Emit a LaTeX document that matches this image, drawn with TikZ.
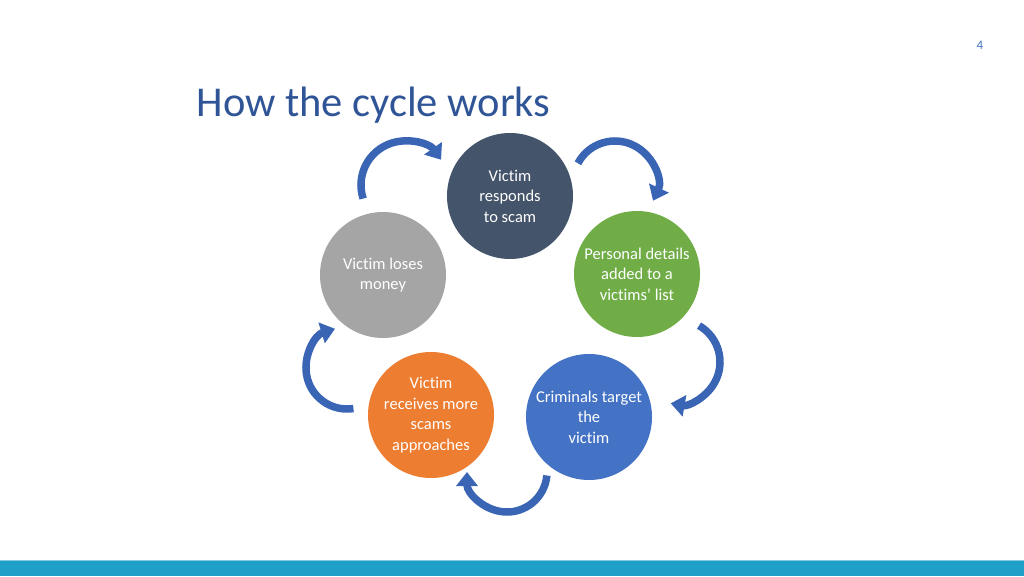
\documentclass[tikz,border=0pt]{standalone}
\usepackage{fontspec}
\setmainfont{Carlito}[Ligatures=NoCommon]
\usetikzlibrary{arrows.meta, positioning}

\definecolor{slate}{HTML}{44546A}
\definecolor{leaf}{HTML}{70AD47}
\definecolor{sky}{HTML}{4472C4}
\definecolor{amber}{HTML}{ED7D31}
\definecolor{ash}{HTML}{A5A5A5}
\definecolor{arrowblue}{HTML}{3A64B4}
\definecolor{titleblue}{HTML}{2F5597}
\definecolor{barblue}{HTML}{1FA0C9}

\begin{document}
\begin{tikzpicture}[
    x=1pt, y=1pt,
    stage/.style={circle, minimum size=126pt, inner sep=0pt, align=center, text=white,
        font=\fontsize{16.5pt}{20.5pt}\selectfont},
    cyc/.style={arrowblue, line width=7.5pt, -{Triangle[width=21pt,length=14pt]}}
]
\useasboundingbox (0,0) rectangle (1024,576);

% slide frame
\fill[barblue] (0,0) rectangle (1024,16);
\draw[barblue!55, line width=1pt] (0,16) -- (1024,16);
\node[text=sky, font=\fontsize{13pt}{15pt}\selectfont] (pagenum) at (980,531) {4};
\node[anchor=west, text=titleblue, font=\fontsize{42.5pt}{48pt}\selectfont] (title) at (193,471) {How the cycle works};

% the five stages
\node[stage, fill=slate] (respond) at (510,380) {Victim\\responds\\to scam};
\node[stage, fill=leaf] (details) at (637,302) {Personal details\\added to a\\victims’ list};
\node[stage, fill=sky] (target) at (589,159) {Criminals target\\the\\victim};
\node[stage, fill=amber] (more) at (431,161) {Victim\\receives more\\scams\\approaches};
\node[stage, fill=ash] (loses) at (383,301) {Victim loses\\money};

% curved arrows between the stages
\coordinate (arrA) at ([shift={(198:44)}]405,391);
\coordinate (arrB) at ([shift={(152:42)}]615,393);
\coordinate (arrC) at ([shift={(60:42)}]678,214);
\coordinate (arrD) at ([shift={(-5:40)}]507,104);
\coordinate (arrE) at ([shift={(279:41)}]347,208);

\draw[cyc] (arrA) arc[start angle=198, end angle=35, radius=44pt];
\draw[cyc] (arrB) arc[start angle=152, end angle=-25, radius=42pt];
\draw[cyc] (arrC) arc[start angle=60, end angle=-100, radius=42pt];
\draw[cyc] (arrD) arc[start angle=-5, end angle=-180, radius=40pt];
\draw[cyc] (arrE) arc[start angle=279, end angle=107, radius=41pt];

\end{tikzpicture}
\end{document}
